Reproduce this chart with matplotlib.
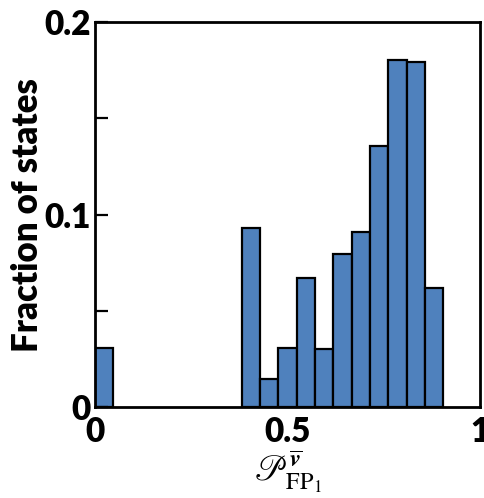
import numpy as np
import matplotlib
matplotlib.use("Agg")
import matplotlib.pyplot as plt
from matplotlib.ticker import MultipleLocator, FixedLocator

plt.rcParams['mathtext.fontset'] = 'stix'

# 21 equal bins on [0, 1]
bin_edges = np.linspace(0, 1, 22)
fractions = [0.0306, 0, 0, 0, 0, 0, 0, 0,
             0.0931, 0.0149, 0.0306, 0.0672, 0.0301, 0.0794,
             0.0910, 0.1356, 0.1800, 0.1794, 0.0618, 0, 0]
ytick_vals = [0, 0.1, 0.2]
ytick_labels = ['0', '0.1', '0.2']
xtick_vals = [0, 0.5, 1]
xtick_labels = ['0', '0.5', '1']

fig = plt.figure(figsize=(4.85, 4.98), dpi=100)
ax = fig.add_axes([0.196, 0.182, 0.794, 0.774])

lefts = bin_edges[:-1]
widths = np.diff(bin_edges)
heights = np.array(fractions)
mask = heights > 0
ax.bar(lefts[mask], heights[mask], width=widths[mask], align='edge',
       color='#4F81BD', edgecolor='black', linewidth=1.6)

ax.set_xlim(0, 1)
ax.set_ylim(0, 0.2)
for s in ax.spines.values():
    s.set_linewidth(2)

ax.yaxis.set_major_locator(FixedLocator(ytick_vals))
ax.set_yticklabels(ytick_labels)
ax.yaxis.set_minor_locator(MultipleLocator(0.05))
ax.tick_params(axis='y', which='both', direction='in', length=9, width=1.6,
               pad=3)
ax.xaxis.set_major_locator(FixedLocator(xtick_vals))
ax.set_xticklabels(xtick_labels)
ax.tick_params(axis='x', which='both', length=0, pad=6)

for lab in ax.get_yticklabels() + ax.get_xticklabels():
    lab.set_fontfamily('Lato')
    lab.set_fontweight('heavy')
    lab.set_fontsize(24)

ax.set_ylabel('Fraction of states', fontfamily='Lato', fontweight='heavy',
              fontsize=25, labelpad=0)
ax.set_xlabel(r'$\mathscr{P}^{\overline{\boldsymbol{v}}}_{\mathrm{FP}_1}$',
              fontsize=25, labelpad=0)

fig.savefig('out.png', dpi=100, facecolor='white')
